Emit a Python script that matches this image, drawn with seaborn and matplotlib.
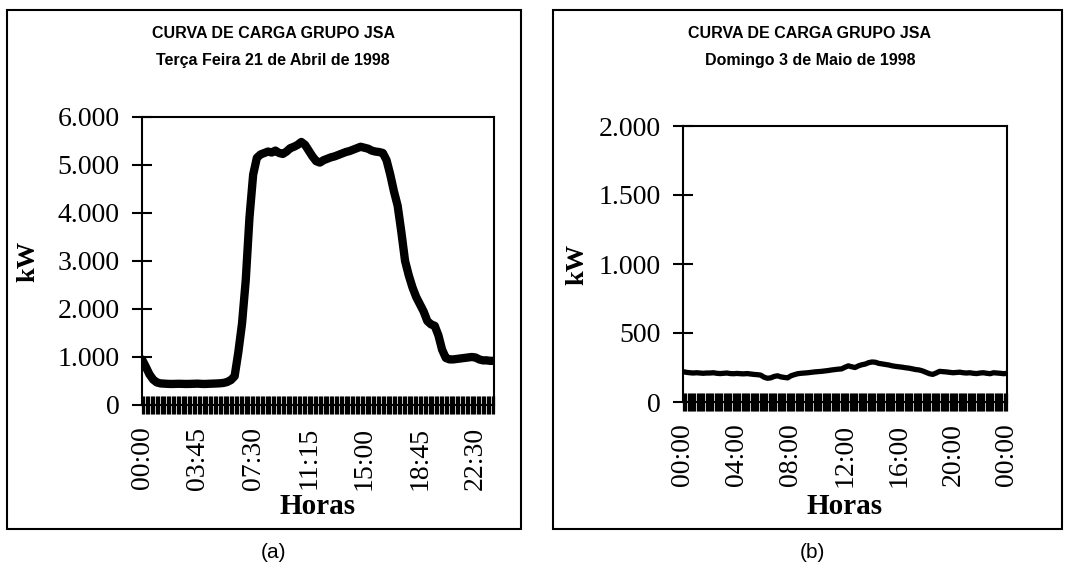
import pandas as pd
import matplotlib.pyplot as plt
import matplotlib.patches as mpatches
from matplotlib.ticker import FuncFormatter, MultipleLocator
import seaborn as sns

# curva (a): terça 21/04/1998, leituras a cada 15 min (96 pontos, kW)
kw_terca = [950, 800, 640, 530, 470, 450, 445, 440, 438, 440, 442, 440,
            438, 440, 442, 445, 440, 438, 442, 445, 448, 452, 460, 480,
            520, 600, 1100, 1700, 2600, 3900, 4800, 5150, 5220, 5250, 5280, 5260,
            5300, 5250, 5230, 5280, 5350, 5380, 5420, 5480, 5420, 5300, 5180, 5080,
            5050, 5100, 5130, 5160, 5180, 5210, 5240, 5270, 5290, 5320, 5350, 5380,
            5360, 5340, 5300, 5280, 5270, 5250, 5100, 4800, 4450, 4150, 3600, 3000,
            2700, 2450, 2250, 2100, 1950, 1750, 1680, 1650, 1450, 1150, 980, 950,
            950, 960, 970, 980, 990, 1000, 990, 950, 930, 930, 920, 920]

# curva (b): domingo 03/05/1998, 00:00 até 24:00 (97 pontos, kW)
kw_domingo = [220, 215, 212, 210, 212, 210, 208, 210, 210, 212, 208, 206,
              208, 210, 206, 205, 207, 205, 204, 206, 203, 200, 198, 195,
              180, 172, 175, 185, 190, 182, 178, 175, 190, 198, 205, 208,
              210, 212, 215, 218, 220, 222, 225, 228, 232, 235, 238, 240,
              252, 262, 255, 250, 262, 270, 275, 285, 290, 288, 280, 276,
              272, 268, 262, 258, 255, 252, 248, 245, 240, 235, 232, 225,
              215, 205, 200, 210, 222, 220, 218, 215, 212, 214, 216, 212,
              210, 212, 208, 206, 210, 212, 208, 205, 212, 210, 208, 205, 208]

ticks_a = ["00:00", "03:45", "07:30", "11:15", "15:00", "18:45", "22:30"]
ticks_b = ["00:00", "04:00", "08:00", "12:00", "16:00", "20:00", "00:00"]
yticks_a = [0, 1000, 2000, 3000, 4000, 5000, 6000]
yticks_b = [0, 500, 1000, 1500, 2000]

titulo = "CURVA DE CARGA GRUPO JSA"
sub_a = "Terça Feira 21 de Abril de 1998"
sub_b = "Domingo 3 de Maio de 1998"

df_a = pd.DataFrame({"min": [15 * i for i in range(len(kw_terca))], "kW": kw_terca})
df_b = pd.DataFrame({"min": [15 * i for i in range(len(kw_domingo))], "kW": kw_domingo})


def to_min(s, i, n):
    h, m = s.split(":")
    v = int(h) * 60 + int(m)
    if i == n - 1 and v == 0:
        v = 1440
    return v


sns.set_style("white")
plt.rcParams["font.family"] = ["Liberation Serif", "DejaVu Serif"]
plt.rcParams["text.color"] = "black"
plt.rcParams["xtick.color"] = "black"
plt.rcParams["ytick.color"] = "black"

W, H = 1068, 573
fig = plt.figure(figsize=(10.68, 5.73), dpi=100)

# molduras dos dois quadros
for x0, x1 in [(7, 521), (553, 1062)]:
    fig.patches.append(mpatches.Rectangle((x0 / W, 1 - 529 / H), (x1 - x0) / W, (529 - 10) / H,
                                          transform=fig.transFigure, fill=False,
                                          edgecolor="black", linewidth=1.5))


def painel(rect, df, lw, xmax, ticks, yticks, ymax, sub, cx, kwx):
    ax = fig.add_axes(rect)
    sns.lineplot(data=df, x="min", y="kW", color="black", linewidth=lw, ax=ax)
    ax.set_xlim(0, xmax)
    ax.set_ylim(0, ymax)
    ax.set_yticks(yticks)
    ax.yaxis.set_major_formatter(FuncFormatter(lambda v, p: f"{int(v):,}".replace(",", ".")))
    pos = [to_min(t, i, len(ticks)) for i, t in enumerate(ticks)]
    ax.set_xticks(pos)
    ax.set_xticklabels(ticks, rotation=90)
    # marcas menores densas (a faixa preta sobre o eixo x)
    ax.xaxis.set_minor_locator(MultipleLocator(5))
    ax.tick_params(axis="y", left=True, direction="inout", length=14, width=1.5,
                   labelsize=20, pad=9, colors="black")
    ax.tick_params(axis="x", which="both", bottom=True, direction="inout", length=13,
                   width=0.9, labelsize=20, pad=9, colors="black")
    ax.set_xlabel("")
    ax.set_ylabel("")
    for s in ax.spines.values():
        s.set_linewidth(1.5)
        s.set_color("black")
    fig.text(cx / W, 1 - 33 / H, titulo, ha="center", va="center", fontsize=11.5,
             fontweight="bold", family=["Liberation Sans", "DejaVu Sans"])
    fig.text(cx / W, 1 - 60 / H, sub, ha="center", va="center", fontsize=11.5,
             fontweight="bold", family=["Liberation Sans", "DejaVu Sans"])
    l, b, w, h = rect
    fig.text(l + w / 2, 1 - 507 / H, "Horas", ha="center", va="center", fontsize=21,
             fontweight="bold")
    fig.text(kwx / W, b + h / 2, "kW", ha="center", va="center", rotation=90,
             fontsize=19, fontweight="bold")
    return ax


painel([142 / W, 1 - 405 / H, 352 / W, 288 / H], df_a, 6, 1425, ticks_a, yticks_a, 6000,
       sub_a, 273, 28)
painel([683 / W, 1 - 402 / H, 324 / W, 276 / H], df_b, 3.8, 1440, ticks_b, yticks_b, 2000,
       sub_b, 810, 577)

fig.text(273 / W, 1 - 553 / H, "(a)", ha="center", va="center", fontsize=15,
         family=["Liberation Sans", "DejaVu Sans"])
fig.text(812 / W, 1 - 553 / H, "(b)", ha="center", va="center", fontsize=15,
         family=["Liberation Sans", "DejaVu Sans"])

fig.savefig("out.png", dpi=100)
